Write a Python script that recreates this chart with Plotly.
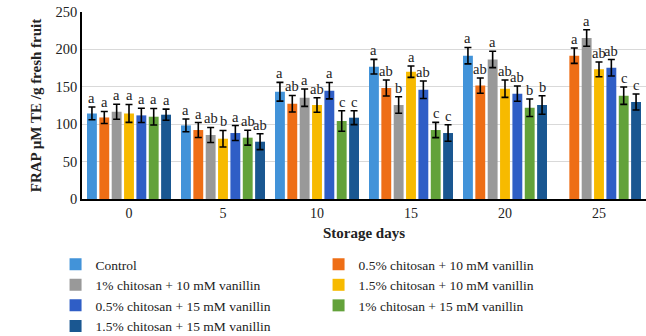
import plotly.graph_objects as go

# Storage time points (days)
days = ["0", "5", "10", "15", "20", "25"]

# Treatments
treatments = [
    "Control",
    "0.5% chitosan + 10 mM vanillin",
    "1% chitosan + 10 mM vanillin",
    "1.5% chitosan + 10 mM vanillin",
    "0.5% chitosan + 15 mM vanillin",
    "1% chitosan + 15 mM vanillin",
    "1.5% chitosan + 15 mM vanillin",
]

colors = ["#4293d9", "#ee6e16", "#999999", "#f7ba00",
          "#2f5ec6", "#63a23a", "#1a5791"]

# FRAP means (µM TE / g fresh fruit), one list per treatment
control = [114.4, 98.4, 143.4, 176.9, 191.6, None]
cs05_v10 = [109.0, 92.2, 127.4, 148.4, 151.6, 191.6]
cs1_v10 = [116.7, 85.6, 135.4, 125.7, 186.6, 215.2]
cs15_v10 = [114.4, 80.6, 125.7, 170.2, 147.5, 173.3]
cs05_v15 = [111.8, 88.2, 144.8, 146.1, 140.8, 175.5]
cs1_v15 = [110.0, 82.0, 104.3, 92.2, 122.0, 138.1]
cs15_v15 = [112.7, 76.6, 108.7, 88.2, 125.7, 129.7]

# Standard errors
control_err = [8.5, 8.5, 12.5, 9.7, 11.0, None]
cs05_v10_err = [8.0, 10.0, 11.0, 10.7, 10.2, 10.3]
cs1_v10_err = [10.0, 10.0, 11.6, 11.0, 11.0, 11.0]
cs15_v10_err = [12.0, 11.0, 9.7, 7.6, 11.6, 9.9]
cs05_v15_err = [9.5, 10.0, 11.0, 11.7, 10.2, 11.0]
cs1_v15_err = [11.0, 10.0, 13.7, 10.2, 11.7, 11.6]
cs15_v15_err = [7.5, 10.6, 9.3, 11.0, 12.4, 10.7]

# Significance letters
control_sig = ["a", "a", "a", "a", "a", ""]
cs05_v10_sig = ["a", "a", "ab", "ab", "ab", "a"]
cs1_v10_sig = ["a", "ab", "a", "b", "a", "a"]
cs15_v10_sig = ["a", "b", "ab", "a", "ab", "ab"]
cs05_v15_sig = ["a", "a", "a", "ab", "ab", "ab"]
cs1_v15_sig = ["a", "ab", "c", "c", "b", "c"]
cs15_v15_sig = ["a", "ab", "c", "c", "b", "c"]

means = [control, cs05_v10, cs1_v10, cs15_v10, cs05_v15, cs1_v15, cs15_v15]
errors = [control_err, cs05_v10_err, cs1_v10_err, cs15_v10_err,
          cs05_v15_err, cs1_v15_err, cs15_v15_err]
letters = [control_sig, cs05_v10_sig, cs1_v10_sig, cs15_v10_sig,
           cs05_v15_sig, cs1_v15_sig, cs15_v15_sig]

SERIF = "Liberation Serif"
BARGAP = 0.08
GROUPGAP = 0.2

fig = go.Figure()
n = len(treatments)
for k, (name, col, ys, es) in enumerate(zip(treatments, colors, means, errors)):
    fig.add_trace(go.Bar(
        x=list(range(len(days))), y=ys, name=name,
        marker=dict(color=col, line=dict(width=0)),
        error_y=dict(type="data", array=es, visible=True,
                     color="black", thickness=1.6, width=3.5),
    ))

# Letters above each error bar, placed at the bar's slot inside its group
slot = (1 - BARGAP) / n
annotations = []
for k in range(n):
    off = -(1 - BARGAP) / 2 + (k + 0.5) * slot
    for i in range(len(days)):
        v = means[k][i]
        if v is None or not letters[k][i]:
            continue
        annotations.append(dict(
            x=i + off, y=v + errors[k][i], xref="x", yref="y",
            text=letters[k][i], showarrow=False, yanchor="bottom",
            yshift=-1, font=dict(family=SERIF, size=14.5, color="#222"),
        ))

fig.update_layout(
    width=646, height=336,
    margin=dict(l=82, r=0, t=12, b=137),
    paper_bgcolor="white", plot_bgcolor="white",
    barmode="group", bargap=BARGAP, bargroupgap=GROUPGAP,
    showlegend=True,
    font=dict(family=SERIF, color="#222"),
    annotations=annotations,
    legend=dict(
        orientation="h", xref="container", yref="container",
        x=0.086, y=0.259, xanchor="left", yanchor="top",
        entrywidth=218, font=dict(family=SERIF, size=13.5, color="#222"),
        itemwidth=30, tracegroupgap=0, bgcolor="rgba(0,0,0,0)",
    ),
    xaxis=dict(
        tickmode="array", tickvals=list(range(len(days))), ticktext=days,
        range=[-0.5, len(days) - 0.5],
        showline=True, linecolor="black", linewidth=1.5,
        showgrid=False, ticks="", tickfont=dict(family=SERIF, size=14),
        title=dict(text="<b>Storage days</b>", standoff=8,
                   font=dict(family=SERIF, size=15)),
    ),
    yaxis=dict(
        range=[0, 250], tickvals=[0, 50, 100, 150, 200, 250],
        showline=True, linecolor="black", linewidth=1.5,
        showgrid=True, gridcolor="#d9d9d9", gridwidth=1,
        zeroline=False, ticks="", tickfont=dict(family=SERIF, size=14.5),
        title=dict(text="<b>FRAP µM TE /g fresh fruit</b>", standoff=10,
                   font=dict(family=SERIF, size=15)),
    ),
)

fig.write_html("out.html")
